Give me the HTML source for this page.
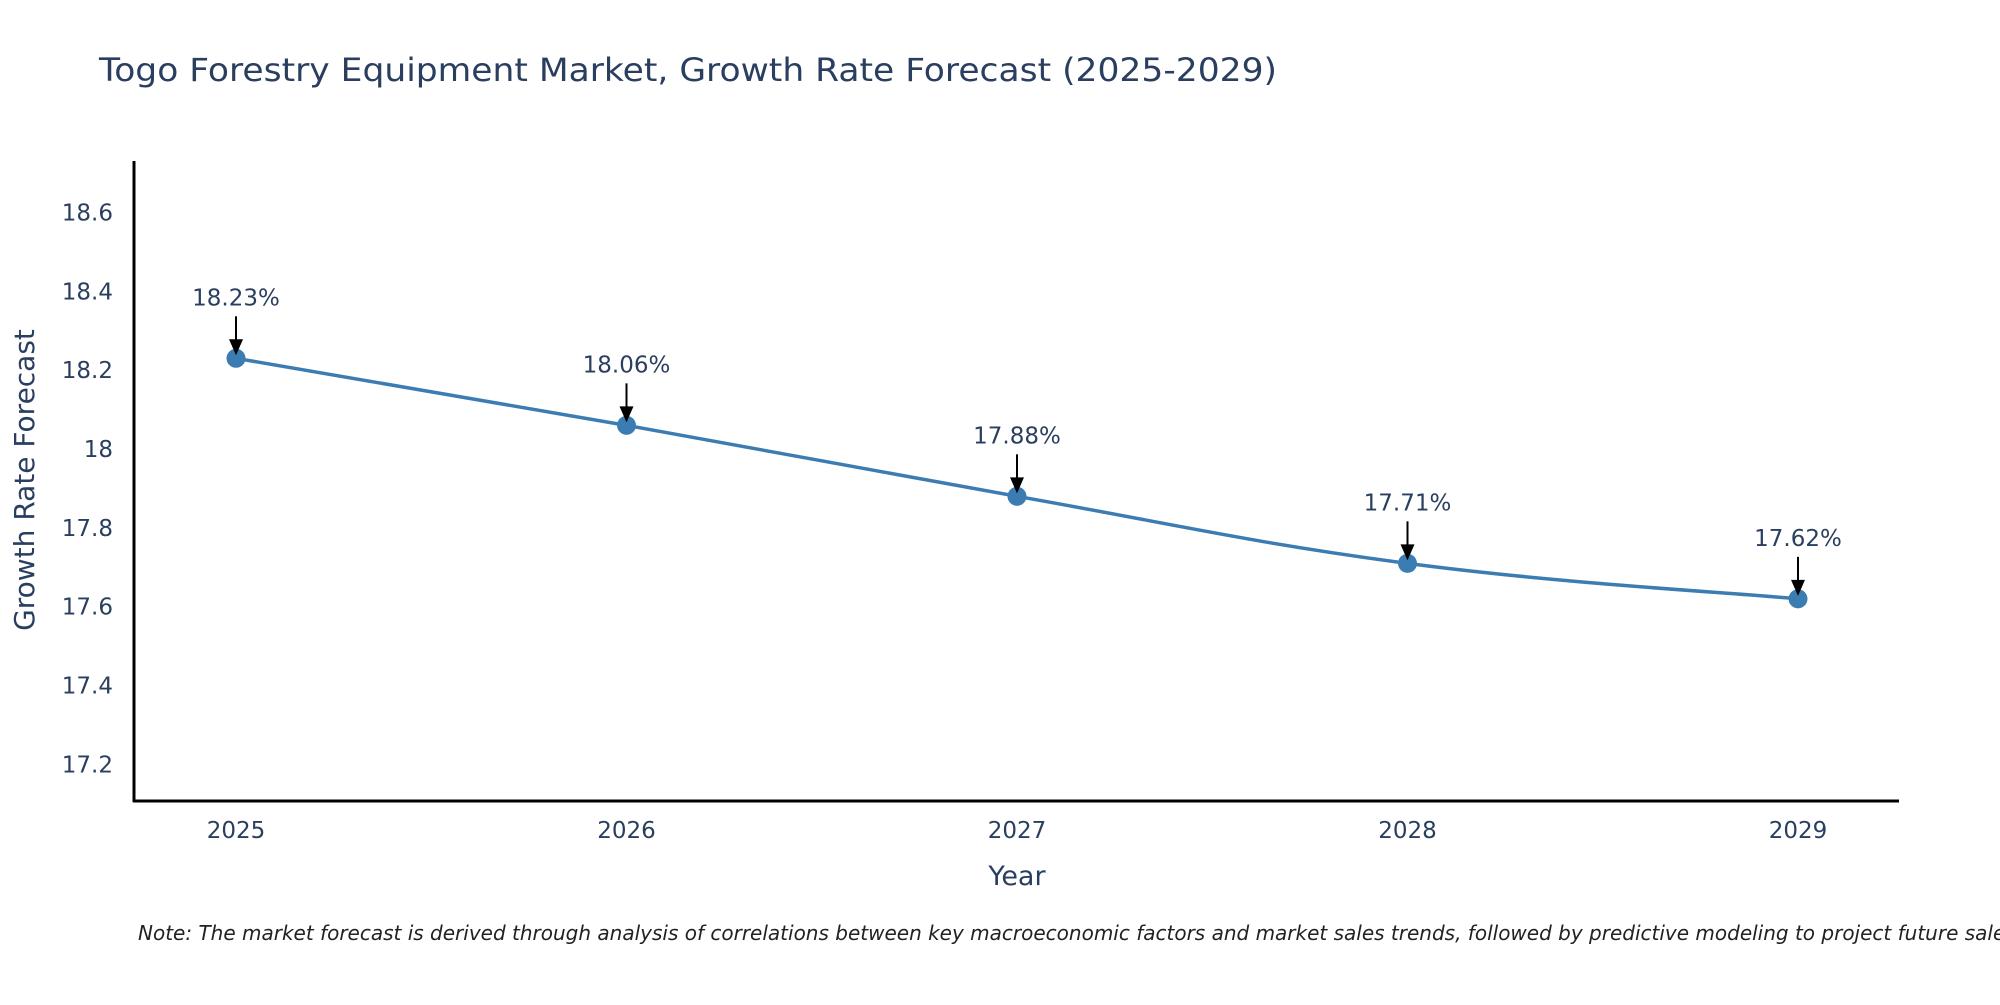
<!DOCTYPE html>
<html><head><meta charset="utf-8"><style>
body{margin:0;background:#fff}
svg text{font-family:"DejaVu Sans","Liberation Sans",sans-serif;fill:#2a3f5f}
</style></head><body>
<svg id="chart" width="2000" height="1000" viewBox="0 0 2000 1000" xmlns="http://www.w3.org/2000/svg">
<text x="99" y="81" font-size="32" textLength="1178" lengthAdjust="spacingAndGlyphs">Togo Forestry Equipment Market, Growth Rate Forecast (2025-2029)</text>
<g id="yticks"></g>
<g id="xticks"></g>
<path id="series" fill="none" stroke="#3b7db3" stroke-width="3.5"/>
<g id="points"></g>
<g id="annots"></g>
<line x1="134" y1="161" x2="134" y2="802" stroke="#000" stroke-width="3"/>
<line x1="133" y1="801" x2="1899" y2="801" stroke="#000" stroke-width="3"/>
<text transform="translate(34,480) rotate(-90)" text-anchor="middle" font-size="28">Growth Rate Forecast</text>
<text x="1017" y="885" text-anchor="middle" font-size="27">Year</text>
<text x="138" y="940" font-size="20" font-style="italic" style="fill:#222">Note: The market forecast is derived through analysis of correlations between key macroeconomic factors and market sales trends, followed by predictive modeling to project future sales.</text>
</svg>
<script>
const years=["2025","2026","2027","2028","2029"];
const values=[18.23,18.06,17.88,17.71,17.62];
const labels=["18.23%","18.06%","17.88%","17.71%","17.62%"];
const yTicks=[17.2,17.4,17.6,17.8,18,18.2,18.4,18.6];
const NS="http://www.w3.org/2000/svg";
function xs(i){return 236+i*390.5;}
function ys(v){return 449-(v-18)*394.3;}
function mk(t,a,p){const e=document.createElementNS(NS,t);for(const k in a)e.setAttribute(k,a[k]);p.appendChild(e);return e;}
const yt=document.getElementById('yticks');
yTicks.forEach(v=>{const t=mk('text',{x:113,y:ys(v)+8,'text-anchor':'end','font-size':'23'},yt);t.textContent=String(v);

});
const xt=document.getElementById('xticks');
years.forEach((y,i)=>{const t=mk('text',{x:xs(i),y:838,'text-anchor':'middle','font-size':'23'},xt);t.textContent=y;

});
const P=values.map((v,i)=>[xs(i),ys(v)]);
let d='M'+P[0][0]+','+P[0][1];
for(let i=0;i<P.length-1;i++){const p0=P[Math.max(i-1,0)],p1=P[i],p2=P[i+1],p3=P[Math.min(i+2,P.length-1)];const s=0.2;
d+=' C'+(p1[0]+(p2[0]-p0[0])*s)+','+(p1[1]+(p2[1]-p0[1])*s)+' '+(p2[0]-(p3[0]-p1[0])*s)+','+(p2[1]-(p3[1]-p1[1])*s)+' '+p2[0]+','+p2[1];}
document.getElementById('series').setAttribute('d',d);
const pts=document.getElementById('points'),an=document.getElementById('annots');
P.forEach((p,i)=>{const c=mk('circle',{cx:p[0],cy:p[1],r:9.5,fill:'#3b7db3'},pts);


const l=mk('line',{x1:p[0],y1:p[1]-42,x2:p[0],y2:p[1]-14,stroke:'#000','stroke-width':2},an);


const h=mk('polygon',{points:(p[0]-7)+','+(p[1]-19)+' '+(p[0]+7)+','+(p[1]-19)+' '+p[0]+','+(p[1]-3),fill:'#000'},an);


const t=mk('text',{x:p[0],y:p[1]-53,'text-anchor':'middle','font-size':'23'},an);t.textContent=labels[i];

});
</script>
</body></html>
